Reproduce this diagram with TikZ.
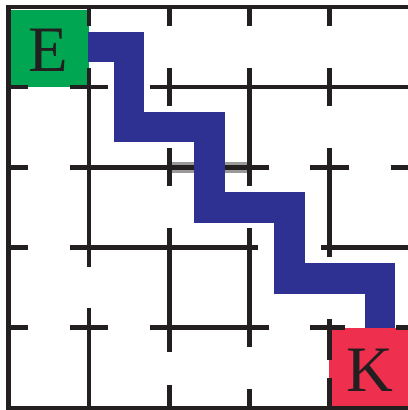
\documentclass[tikz,border=0pt]{standalone}
\usepackage{fontspec}
\setmainfont{Liberation Serif}
\definecolor{startgreen}{RGB}{0,166,81}
\definecolor{goalred}{RGB}{238,47,77}
\definecolor{pathblue}{RGB}{46,49,146}
\definecolor{wallblack}{RGB}{35,31,32}

\begin{document}
\begin{tikzpicture}[y=-1cm,
  wall/.style={draw=wallblack,line width=0.058cm},
  route/.style={draw=pathblue,line width=0.38cm,line join=miter},
  mazeletter/.style={font=\fontsize{23}{23}\selectfont,text=wallblack,inner sep=0pt}]
\useasboundingbox (-0.11,-0.085) rectangle (4.976,5.027);
\fill[startgreen] (0.025,0.035) rectangle (1.00,1.00);
\fill[goalred] (3.99,4.00) rectangle (4.975,4.975);
\draw[black!40,line width=0.137cm] (2.03,2.00) -- (2.97,2.00);
% frame
\draw[wall] (0,0) rectangle (5,5);
% rows
\draw[wall] (0,1) -- (0.24,1) (0.76,1) -- (1.24,1) (1.76,1) -- (5,1);
\draw[wall] (0,2) -- (0.24,2) (0.76,2) -- (3.24,2) (3.76,2) -- (4.24,2) (4.76,2) -- (5,2);
\draw[wall] (0,3) -- (0.24,3) (0.76,3) -- (3.11,3) (3.89,3) -- (5,3);
\draw[wall] (0,4) -- (0.24,4) (0.76,4) -- (1.24,4) (1.76,4) -- (3.24,4) (3.76,4) -- (4.19,4) (4.83,4) -- (5,4);
% columns
\draw[wall] (1,0) -- (1,0.24) (1,0.76) -- (1,3.24) (1,3.76) -- (1,5);
\draw[wall] (2,0) -- (2,0.24) (2,0.76) -- (2,1.24) (2,1.76) -- (2,2.24) (2,2.76) -- (2,4.30) (2,4.71) -- (2,5);
\draw[wall] (3,0) -- (3,0.24) (3,0.76) -- (3,2.24) (3,2.76) -- (3,4.24) (3,4.76) -- (3,5);
\draw[wall] (4,0) -- (4,0.24) (4,0.76) -- (4,1.24) (4,1.76) -- (4,3.12) (4,3.89) -- (4,4.40) (4,4.63) -- (4,5);
% solution
\draw[route] (0.99,0.50) -- (1.50,0.50) -- (1.50,1.50) -- (2.50,1.50) -- (2.50,2.50)
  -- (3.50,2.50) -- (3.50,3.39) -- (4.63,3.39) -- (4.63,4.00);
\node[mazeletter] (E) at (0.49,0.54) {E};
\node[mazeletter] (K) at (4.50,4.53) {K};
\end{tikzpicture}
\end{document}
